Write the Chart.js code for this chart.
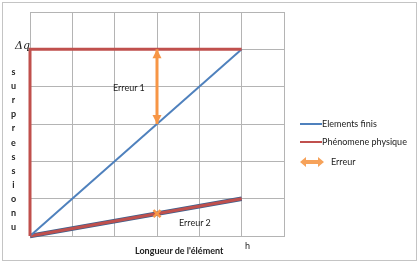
<!DOCTYPE html>
<html>
<head>
<meta charset="utf-8">
<script src="https://cdn.jsdelivr.net/npm/chart.js@4"></script>
<style>
  html, body { margin: 0; padding: 0; background: #fff; }
  #wrap { position: relative; width: 420px; height: 263px; font-family: Lato, "Liberation Sans", sans-serif; color: #222; }
  #frame { position: absolute; left: 2px; top: 2px; width: 415px; height: 259px; border: 1px solid #c4c4c4; box-sizing: border-box; }
  canvas { position: absolute; left: 0; top: 0; }
  .lbl { position: absolute; white-space: nowrap; font-size: 9px; line-height: 1; }
  .vert { position: absolute; left: 9px; width: 9px; text-align: center; font-weight: bold; font-size: 9px; line-height: 1; }
  .sw { position: absolute; height: 2px; width: 22px; }
</style>
</head>
<body>
<div id="wrap">
  <canvas id="c" width="420" height="263"></canvas>
  <div id="frame"></div>
  <div class="lbl" style="left:15px; top:40px; font-family:'DejaVu Serif', serif; font-style:italic; font-size:11px;">Δq</div>
  <div id="ylab"></div>
  <div class="lbl" style="left:113px; top:83px;">Erreur 1</div>
  <div class="lbl" style="left:179px; top:218px;">Erreur 2</div>
  <div class="lbl" style="left:135px; top:246px; font-weight:bold;">Longueur de l'élément</div>
  <div class="lbl" style="left:245px; top:241px;">h</div>
  <div class="sw" style="left:300px; top:123px; background:#4f81bd;"></div>
  <div class="lbl" style="left:322px; top:119px;">Elements finis</div>
  <div class="sw" style="left:300px; top:141px; background:#c0504d;"></div>
  <div class="lbl" style="left:322px; top:137px;">Phénomene physique</div>
  <svg style="position:absolute; left:299px; top:156px;" width="26" height="12">
    <path d="M1 6 L7 1 L7 4 L19 4 L19 1 L25 6 L19 11 L19 8 L7 8 L7 11 Z" fill="#f6a25a"/>
  </svg>
  <div class="lbl" style="left:331px; top:157px;">Erreur</div>
</div>
<script>
// y axis title, one letter per line
const yTitle = 'surpressionu';

// finite elements vs physical phenomenon (x = length, y = overpressure)
const finisA = [{x: 0, y: 0}, {x: 5, y: 5}];
const physA = [{x: 0, y: 0}, {x: 0, y: 5}, {x: 5, y: 5}];
const finisB = [{x: 0, y: 0}, {x: 5, y: 1}];
const physB = [{x: 0, y: 0}, {x: 5, y: 1}];
const erreur1 = [{x: 3, y: 5}, {x: 3, y: 3}];
const erreur2 = [{x: 3, y: 0.6}];

const xMax = 6;
const yMax = 6;

(function() {
	const ylab = document.getElementById('ylab');
	for (let i = 0; i < yTitle.length; ++i) {
		const d = document.createElement('div');
		d.className = 'vert';
		d.style.top = (67 + i * 14.1) + 'px';
		d.textContent = yTitle[i];
		ylab.appendChild(d);
	}
})();

// arrow heads on the "Erreur 1" line
const arrowHeads = {
	id: 'arrowHeads',
	afterDatasetsDraw(chart) {
		const meta = chart.getDatasetMeta(1);
		const pts = meta.data;
		if (pts.length < 2) return;
		const ctx = chart.ctx;
		ctx.save();
		ctx.fillStyle = '#f79646';
		function head(tip, from) {
			const a = Math.atan2(tip.y - from.y, tip.x - from.x);
			const len = 9, w = 4.5;
			ctx.beginPath();
			ctx.moveTo(tip.x, tip.y);
			ctx.lineTo(tip.x - len * Math.cos(a) + w * Math.sin(a), tip.y - len * Math.sin(a) - w * Math.cos(a));
			ctx.lineTo(tip.x - len * Math.cos(a) - w * Math.sin(a), tip.y - len * Math.sin(a) + w * Math.cos(a));
			ctx.closePath();
			ctx.fill();
		}
		head(pts[0], pts[1]);
		head(pts[1], pts[0]);
		ctx.restore();
	}
};

// first dataset is drawn on top
const ctx = document.getElementById('c');
new Chart(ctx, {
	type: 'scatter',
	data: {
		datasets: [
			{ label: 'Erreur 2', data: erreur2, showLine: false, pointStyle: 'crossRot', pointRadius: 5, borderColor: '#f79646', borderWidth: 2.5 },
			{ label: 'Erreur', data: erreur1, showLine: true, borderColor: '#f79646', borderWidth: 3, pointRadius: 0 },
			{ label: 'Phénomene physique', data: physA, showLine: true, borderColor: '#c0504d', borderWidth: 3, pointRadius: 0 },
			{ label: 'Elements finis', data: finisA, showLine: true, borderColor: '#4f81bd', borderWidth: 2, pointRadius: 0 },
			{ label: 'physB', data: physB, showLine: true, borderColor: '#c0504d', borderWidth: 3, pointRadius: 0 },
			{ label: 'finisB', data: finisB, showLine: true, borderColor: '#3c5f8c', borderWidth: 4.5, pointRadius: 0 },
		],
	},
	options: {
		responsive: false,
		animation: false,
		clip: false,
		layout: { padding: { left: 30, top: 12, right: 136, bottom: 27 } },
		plugins: { legend: { display: false }, tooltip: { enabled: false } },
		scales: {
			x: {
				type: 'linear', min: 0, max: xMax,
				ticks: { display: false, stepSize: 1 },
				grid: { color: '#b4b4b4', drawTicks: false },
				border: { color: '#b4b4b4' },
			},
			y: {
				type: 'linear', min: 0, max: yMax,
				ticks: { display: false, stepSize: 1 },
				grid: { color: '#b4b4b4', drawTicks: false },
				border: { color: '#b4b4b4' },
			},
		},
	},
	plugins: [arrowHeads],
});
</script>
</body>
</html>
